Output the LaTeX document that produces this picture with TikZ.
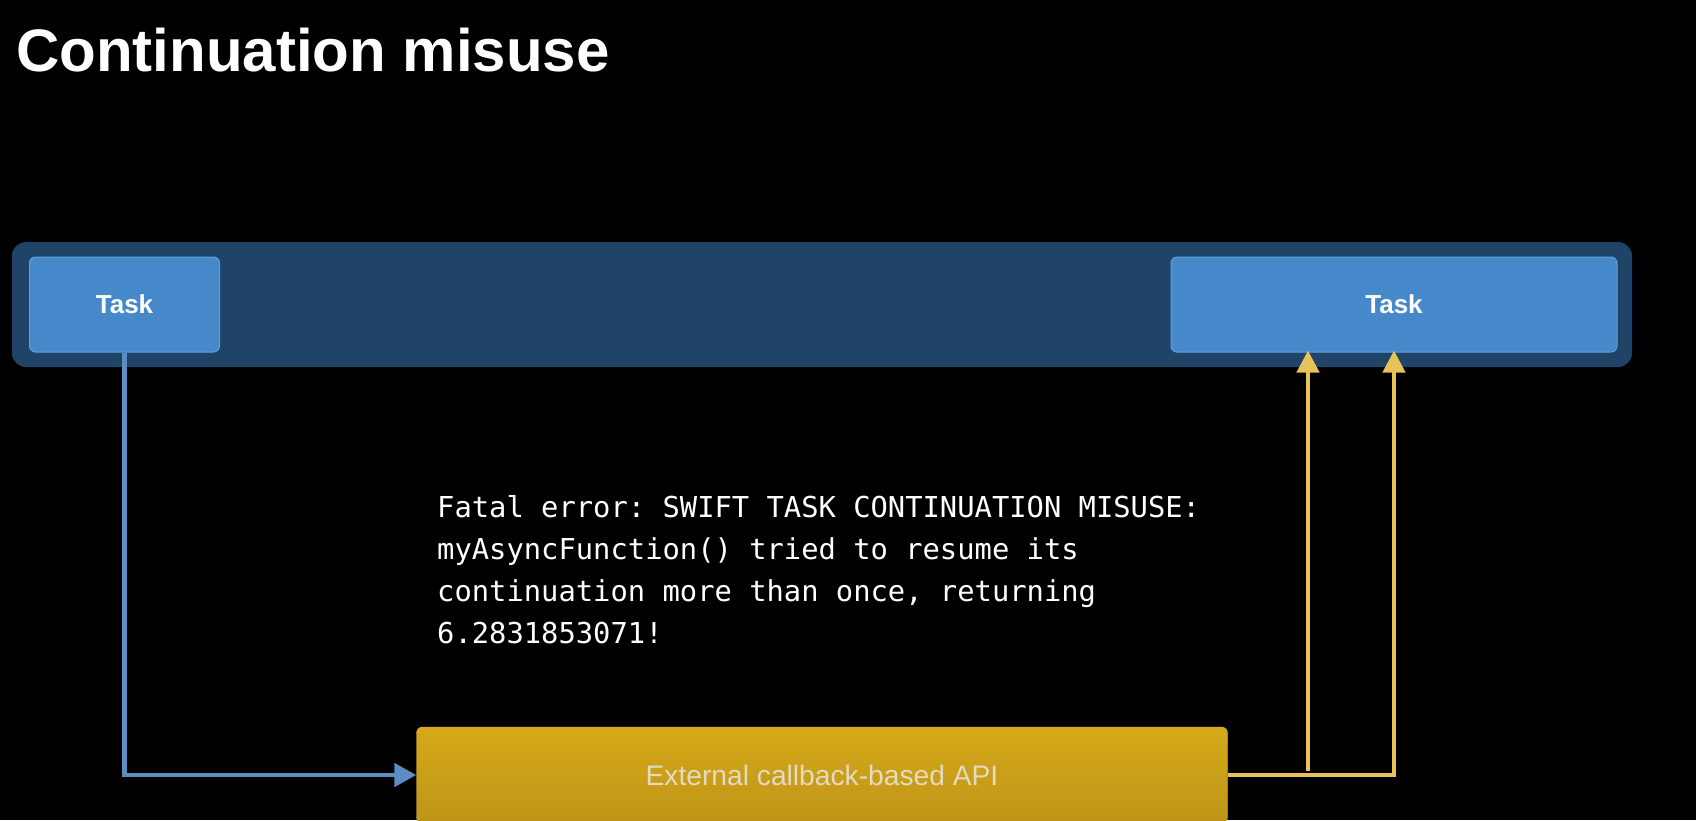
\documentclass[tikz,border=0pt]{standalone}
\usepackage{fontspec}
\setmainfont{Liberation Sans}
\newfontfamily\codefont{DejaVu Sans Mono}
\usetikzlibrary{arrows.meta}

\definecolor{bandblue}{HTML}{1F4468}
\definecolor{taskblue}{HTML}{4689CB}
\definecolor{taskedge}{HTML}{62A0DA}
\definecolor{apigold}{HTML}{D3A51B}
\definecolor{apitext}{HTML}{E4DAC0}
\definecolor{callblue}{HTML}{5A8EC4}
\definecolor{retgold}{HTML}{E8C15A}

\begin{document}
\frenchspacing
\begin{tikzpicture}
  [x=1pt,y=-1pt,
   task/.style={draw=taskedge, fill=taskblue, rounded corners=6pt, line width=1pt,
     minimum height=95pt, text=white, font=\fontsize{26}{30}\selectfont\bfseries},
   api/.style={draw=apigold!80!white, top color=apigold!95!yellow, bottom color=apigold!90!black,
     rounded corners=6pt, minimum width=811pt, minimum height=96pt, text=apitext,
     font=\fontsize{28.2}{32}\selectfont},
   call/.style={draw=callblue, line width=4.5pt, -{Triangle[length=22pt,width=23pt]}},
   ret/.style={draw=retgold, line width=4.5pt, -{Triangle[length=22pt,width=22pt]}}]

 \fill[black] (0,0) rectangle (1696,820);
 \useasboundingbox (0,0) rectangle (1696,820);

 \node[anchor=base west, text=white, inner sep=0pt, font=\fontsize{60}{70}\selectfont\bfseries]
   (title) at (16,71) {Continuation misuse};

 \fill[bandblue, rounded corners=14pt] (12,242) rectangle (1632,367);

 \node[task, minimum width=190pt] (t1) at (124.5,304.5) {Task};
 \node[task, minimum width=446pt] (t2) at (1394,304.5) {Task};

 \node[api] (api) at (822,775) {External callback-based API};

 % base of the node is the last line
 \node[anchor=base west, align=left, inner sep=0pt, text=white,
   font=\codefont\fontsize{28.8}{42}\selectfont] (err) at (437,643)
   {Fatal error: SWIFT TASK CONTINUATION MISUSE:\\
    myAsyncFunction() tried to resume its\\
    continuation more than once, returning\\
    6.2831853071!};

 \coordinate (j1) at (1308,771);

 \draw[call] (t1.south) |- (api.west);
 \draw[ret] (api.east) -| ([yshift=2pt]t2.south);
 \draw[ret] (j1) -- ([yshift=2pt]j1 |- t2.south);

\end{tikzpicture}
\end{document}
